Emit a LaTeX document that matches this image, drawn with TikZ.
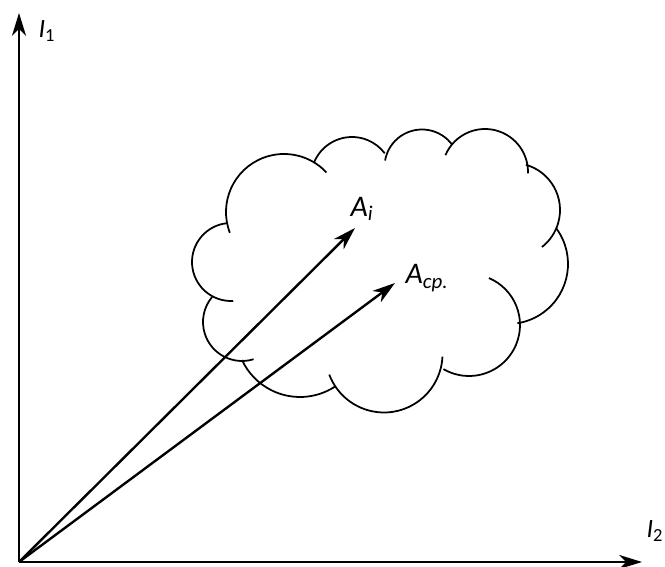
\documentclass[tikz,border=0pt]{standalone}
\usepackage{fontspec}
\setmainfont{Carlito}
\usepackage{tikz}
\usetikzlibrary{arrows.meta}

\begin{document}
\begin{tikzpicture}[x=0.02cm, y=0.02cm,
  eje/.style={-{Stealth[length=13pt, width=8pt, inset=4pt]}, line width=1.35pt},
  vector/.style={-{Stealth[length=13pt, width=8pt, inset=4pt]}, line width=1.35pt},
  nube/.style={line width=1pt},
  etiqueta/.style={font=\fontsize{17}{20}\selectfont\itshape, inner sep=0pt},
  etiquetaEje/.style={font=\fontsize{15}{18}\selectfont\itshape, inner sep=0pt}
]
\useasboundingbox (-19,-5) rectangle (646,562);

\coordinate (O) at (0,0);
\coordinate (finY) at (0,549);
\coordinate (finX) at (623,0);
\coordinate (puntaAi) at (336,334);
\coordinate (puntaAcp) at (376,279);

% nube
\foreach \cx/\cy/\r/\a/\b in {265/350/58/201/43, 333/384/41/157.5/37,
    403/395/37.5/170/36, 466/390/43/157/-2, 494/352/47/74/-52,
    489/298/60/36/-81, 450/237/51/67/-120, 365/208/58.5/-2.6/-159.4,
    281/229/64/-57/-155, 223/240/39/-72.7/-220, 212/300/39/-86.7/-264.4}
  \draw[nube] ([shift={(\a:\r)}]\cx,\cy) arc[start angle=\a, end angle=\b, radius=\r];

% ejes
\draw[eje] (O) -- (finY);
\draw[eje] (O) -- (finX);
\node[etiquetaEje] (i1) at (28,531) {I\textsubscript{\upshape 1}};
\node[etiquetaEje] (i2) at (636,31) {I\textsubscript{\upshape 2}};

% vectores
\draw[vector] (O) -- (puntaAi);
\draw[vector] (O) -- (puntaAcp);
\node[etiqueta] (ai) at (343,353) {A\textsubscript{i}};
\node[etiqueta] (acp) at (408,284) {A\textsubscript{ср.}};
\end{tikzpicture}
\end{document}
